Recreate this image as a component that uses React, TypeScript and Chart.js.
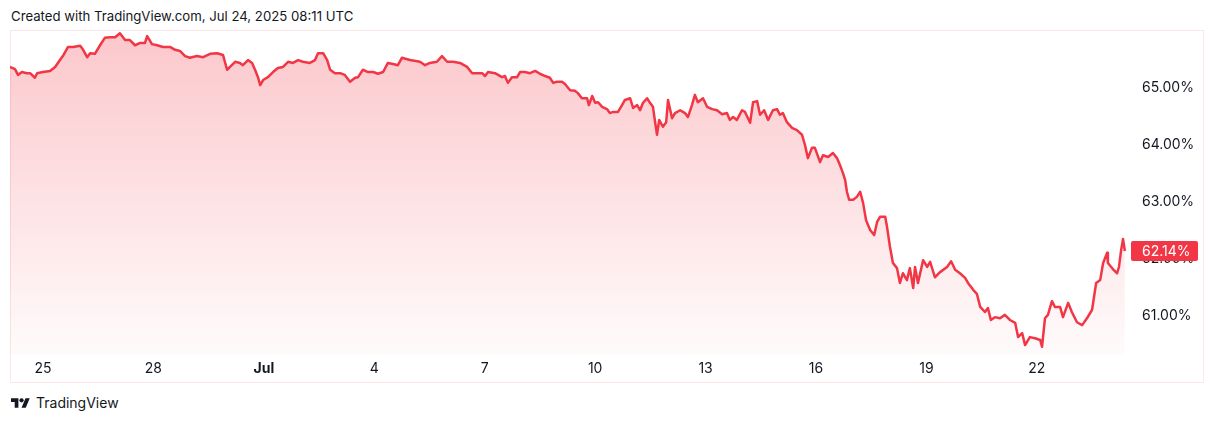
import React, { useEffect, useRef } from 'react';
import { Chart, registerables } from 'chart.js';

Chart.register(...registerables);

// Days since Jun 25 00:00 UTC
const times = [
  -0.90, -0.76, -0.68, -0.57, -0.44, -0.35, -0.22, -0.16, 0.00, 0.19, 0.33, 0.46, 0.54, 0.68, 0.82,
  1.01, 1.09, 1.20, 1.28, 1.41, 1.55, 1.68, 1.82, 1.96, 2.09, 2.23, 2.36, 2.50, 2.64, 2.77, 2.83, 2.96,
  3.10, 3.26, 3.45, 3.59, 3.72, 3.86, 3.99, 4.18, 4.35, 4.54, 4.73, 4.89, 5.00, 5.08, 5.22, 5.35, 5.43,
  5.57, 5.68, 5.76, 5.84, 5.90, 5.98, 6.11, 6.25, 6.38, 6.52, 6.66, 6.79, 6.93, 7.06, 7.25, 7.39, 7.47,
  7.61, 7.72, 7.80, 7.93, 8.07, 8.20, 8.34, 8.48, 8.56, 8.69, 8.83, 8.97, 9.10, 9.24, 9.37, 9.51, 9.64,
  9.75, 9.97, 10.24, 10.38, 10.51, 10.70, 10.84, 10.98, 11.14, 11.33, 11.52, 11.66, 11.79, 11.93, 12.01,
  12.09, 12.28, 12.47, 12.55, 12.63, 12.74, 12.88, 12.96, 13.09, 13.23, 13.37, 13.50, 13.64, 13.77, 13.86,
  13.96, 14.10, 14.18, 14.32, 14.45, 14.53, 14.64, 14.78, 14.83, 14.92, 15.00, 15.08, 15.19, 15.32, 15.40,
  15.49, 15.62, 15.73, 15.81, 15.95, 16.03, 16.14, 16.22, 16.30, 16.41, 16.49, 16.57, 16.63, 16.68, 16.74,
  16.84, 16.93, 16.98, 17.09, 17.17, 17.31, 17.44, 17.52, 17.63, 17.71, 17.79, 17.93, 18.04, 18.18, 18.31,
  18.45, 18.58, 18.66, 18.75, 18.85, 18.99, 19.07, 19.21, 19.29, 19.40, 19.48, 19.59, 19.70, 19.83, 19.94,
  20.02, 20.10, 20.21, 20.35, 20.48, 20.62, 20.70, 20.78, 20.89, 20.97, 21.11, 21.19, 21.33, 21.46, 21.57,
  21.65, 21.73, 21.79, 21.84, 21.90, 22.01, 22.11, 22.20, 22.28, 22.36, 22.47, 22.58, 22.66, 22.74, 22.88,
  22.93, 23.01, 23.09, 23.20, 23.28, 23.36, 23.47, 23.55, 23.64, 23.69, 23.77, 23.91, 24.02, 24.10, 24.23,
  24.37, 24.56, 24.67, 24.78, 24.91, 25.05, 25.13, 25.27, 25.37, 25.46, 25.59, 25.67, 25.75, 25.86, 26.00,
  26.13, 26.27, 26.41, 26.49, 26.60, 26.68, 26.81, 26.95, 27.09, 27.14, 27.22, 27.30, 27.41, 27.49, 27.63,
  27.71, 27.85, 27.95, 28.09, 28.23, 28.36, 28.50, 28.61, 28.72, 28.80, 28.91, 28.93, 29.07, 29.18, 29.23,
  29.29, 29.34, 29.39,
];

// Dominance, %
const dominance = [
  65.37, 65.33, 65.23, 65.28, 65.26, 65.26, 65.18, 65.26, 65.28, 65.30, 65.37, 65.49, 65.56, 65.72, 65.72,
  65.74, 65.67, 65.54, 65.61, 65.60, 65.75, 65.88, 65.89, 65.89, 65.96, 65.84, 65.84, 65.75, 65.79, 65.79, 65.91, 65.77,
  65.75, 65.72, 65.72, 65.67, 65.65, 65.56, 65.53, 65.56, 65.54, 65.60, 65.61, 65.58, 65.32, 65.37, 65.46, 65.44, 65.40,
  65.49, 65.44, 65.32, 65.19, 65.05, 65.14, 65.19, 65.28, 65.35, 65.37, 65.46, 65.44, 65.49, 65.46, 65.44, 65.49, 65.61,
  65.61, 65.49, 65.32, 65.26, 65.26, 65.23, 65.11, 65.18, 65.19, 65.32, 65.28, 65.28, 65.25, 65.28, 65.44, 65.42, 65.40,
  65.53, 65.49, 65.46, 65.40, 65.44, 65.46, 65.56, 65.46, 65.46, 65.44, 65.37, 65.26, 65.26, 65.26, 65.21,
  65.28, 65.26, 65.19, 65.21, 65.09, 65.19, 65.19, 65.28, 65.28, 65.26, 65.30, 65.25, 65.21, 65.18, 65.09,
  65.11, 65.11, 65.07, 64.96, 64.95, 64.91, 64.82, 64.82, 64.70, 64.86, 64.74, 64.75, 64.67, 64.63, 64.56,
  64.58, 64.58, 64.70, 64.79, 64.82, 64.65, 64.70, 64.61, 64.74, 64.82, 64.74, 64.67, 64.40, 64.18, 64.44,
  64.32, 64.40, 64.79, 64.47, 64.56, 64.61, 64.56, 64.49, 64.70, 64.88, 64.75, 64.82, 64.67, 64.63, 64.61,
  64.54, 64.56, 64.44, 64.49, 64.44, 64.61, 64.58, 64.39, 64.75, 64.77, 64.53, 64.61, 64.44, 64.61, 64.63,
  64.53, 64.56, 64.40, 64.30, 64.26, 64.18, 64.00, 63.77, 63.95, 63.95, 63.70, 63.82, 63.79, 63.86, 63.77,
  63.65, 63.51, 63.39, 63.18, 63.04, 63.04, 63.09, 63.18, 62.98, 62.68, 62.51, 62.42, 62.65, 62.74, 62.74,
  62.56, 62.21, 61.93, 61.84, 61.58, 61.75, 61.63, 61.84, 61.49, 61.86, 61.58, 61.98, 61.86, 61.95, 61.68,
  61.77, 61.86, 61.96, 61.81, 61.75, 61.67, 61.58, 61.46, 61.39, 61.16, 61.07, 61.14, 60.93, 60.98, 60.96,
  61.02, 60.93, 60.88, 60.63, 60.70, 60.49, 60.63, 60.61, 60.58, 60.46, 60.96, 61.02, 61.26, 61.16, 61.16,
  60.98, 61.23, 61.07, 60.89, 60.84, 60.96, 61.11, 61.58, 61.63, 61.93, 62.11, 61.93, 61.82, 61.75, 61.86,
  62.16, 62.35, 62.14,
];

const tickDays = [0, 3, 6, 9, 12, 15, 18, 21, 24, 27];
const tickLabels = ['25', '28', 'Jul', '4', '7', '10', '13', '16', '19', '22'];
const boldTickDays = [6];
const priceTicks = [61, 62, 63, 64, 65];
const lastValue = 62.14;
const titleText = 'Created with TradingView.com, Jul 24, 2025 08:11 UTC';

const LINE = '#F23645';
const TEXT = '#131722';
const FONT = 'Inter, "Noto Sans", sans-serif';

export default function App() {
  const ref = useRef<HTMLCanvasElement>(null);

  useEffect(() => {
    const canvas = ref.current;
    if (!canvas) return;

    const decor = {
      id: 'decor',
      beforeDraw(chart: any) {
        const { ctx, width, height } = chart;
        ctx.save();
        ctx.strokeStyle = '#fbe6e9';
        ctx.lineWidth = 1;
        ctx.strokeRect(0.5, 0.5, width - 1, height - 1);
        ctx.restore();
      },
      afterDraw(chart: any) {
        const { ctx, chartArea } = chart;
        const y = chart.scales.y.getPixelForValue(lastValue);
        ctx.save();
        ctx.fillStyle = LINE;
        const x0 = chartArea.right + 1;
        const w = 67;
        const h = 20;
        ctx.beginPath();
        if ((ctx as any).roundRect) (ctx as any).roundRect(x0, y - h / 2, w, h, 2);
        else ctx.rect(x0, y - h / 2, w, h);
        ctx.fill();
        ctx.fillStyle = '#ffffff';
        ctx.font = `14px ${FONT}`;
        ctx.textAlign = 'left';
        ctx.textBaseline = 'middle';
        ctx.fillText(lastValue.toFixed(2) + '%', chartArea.right + 12, y + 0.5);
        ctx.restore();
      },
    };

    const chart = new Chart(canvas, {
      type: 'line',
      data: {
        datasets: [
          {
            data: times.map((t, i) => ({ x: t, y: dominance[i] })),
            borderColor: LINE,
            borderWidth: 2.5,
            pointRadius: 0,
            tension: 0,
            borderJoinStyle: 'round',
            fill: 'start',
            backgroundColor: (c: any) => {
              const a = c.chart.chartArea;
              if (!a) return 'rgba(242,54,69,0.15)';
              const g = c.chart.ctx.createLinearGradient(0, a.top, 0, a.bottom);
              g.addColorStop(0, 'rgba(242,54,69,0.28)');
              g.addColorStop(1, 'rgba(242,54,69,0.02)');
              return g;
            },
          },
        ],
      },
      options: {
        responsive: false,
        maintainAspectRatio: false,
        animation: false,
        layout: { padding: 0 },
        plugins: { legend: { display: false }, tooltip: { enabled: false } },
        scales: {
          x: {
            type: 'linear',
            position: 'bottom',
            min: -0.8965,
            max: 29.53,
            grid: { display: false, drawTicks: false },
            border: { display: false },
            afterBuildTicks: (s: any) => {
              s.ticks = tickDays.map((v) => ({ value: v }));
            },
            afterFit: (s: any) => {
              s.height = 28;
              s.paddingLeft = 0;
              s.paddingRight = 0;
            },
            ticks: {
              autoSkip: false,
              maxRotation: 0,
              padding: 5,
              color: TEXT,
              font: (c: any) => ({
                family: FONT,
                size: 14,
                weight: c.tick && boldTickDays.includes(c.tick.value) ? 'bold' : 'normal',
              }),
              callback: (v: any) => {
                const i = tickDays.indexOf(Number(v));
                return i >= 0 ? tickLabels[i] : '';
              },
            },
          },
          y: {
            type: 'linear',
            position: 'right',
            min: 60.316,
            max: 66.0175,
            grid: { display: false, drawTicks: false },
            border: { display: false },
            afterBuildTicks: (s: any) => {
              s.ticks = priceTicks.map((v) => ({ value: v }));
            },
            afterFit: (s: any) => {
              s.width = 74;
              s.paddingTop = 0;
              s.paddingBottom = 0;
            },
            ticks: {
              padding: 12,
              color: TEXT,
              font: { family: FONT, size: 14 },
              callback: (v: any) => Number(v).toFixed(2) + '%',
            },
          },
        },
      },
      plugins: [decor],
    } as any);

    return () => chart.destroy();
  }, []);

  return (
    <div
      style={{
        position: 'fixed',
        left: 0,
        top: 0,
        width: 1215,
        height: 422,
        background: '#ffffff',
        overflow: 'hidden',
      }}
    >
      <div
        style={{
          position: 'absolute',
          left: 11,
          top: 8,
          font: `13.2px ${FONT}`,
          lineHeight: '16px',
          color: TEXT,
          whiteSpace: 'nowrap',
        }}
      >
        {titleText}
      </div>
      <canvas
        ref={ref}
        width={1194}
        height={353}
        style={{ position: 'absolute', left: 10, top: 30, width: 1194, height: 353 }}
      />
      <svg
        viewBox="0 0 36 28"
        width={19}
        height={15}
        style={{ position: 'absolute', left: 11, top: 396 }}
      >
        <path d="M14 22H7V11H0V4h14v18zM28 22h-8l7.5-18h8L28 22z" fill={TEXT} />
        <circle cx="20" cy="8" r="4" fill={TEXT} />
      </svg>
      <div
        style={{
          position: 'absolute',
          left: 36,
          top: 394,
          font: `14px ${FONT}`,
          lineHeight: '17px',
          color: TEXT,
          whiteSpace: 'nowrap',
        }}
      >
        TradingView
      </div>
    </div>
  );
}
